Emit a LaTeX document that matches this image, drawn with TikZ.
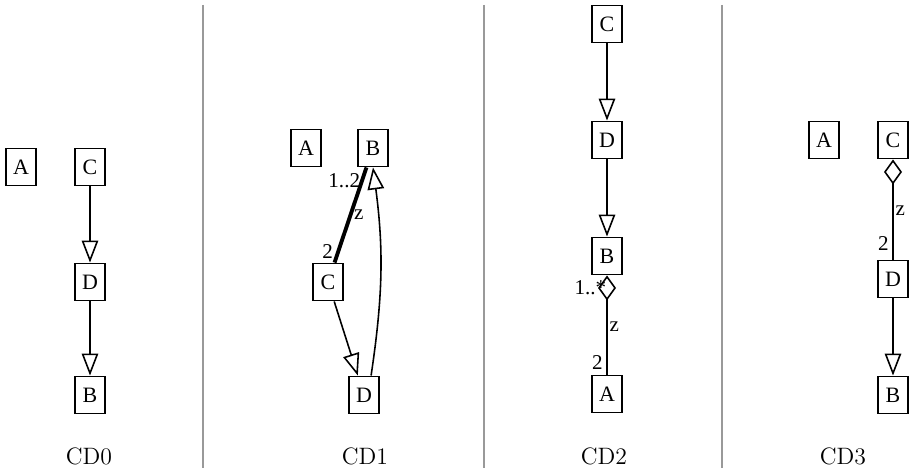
\documentclass[tikz,border=0pt]{standalone}
\usepackage{fontspec}
\newfontfamily\umlfont{Liberation Serif}
\usetikzlibrary{arrows.meta}

\begin{document}
\begin{tikzpicture}[x=0.02cm, y=-0.02cm,
    cls/.style={draw, line width=1.1pt, fill=white, minimum width=0.6cm, minimum height=0.74cm, inner sep=0pt, font=\umlfont\fontsize{12.5}{14}\selectfont},
    gen/.style={-{Triangle[open, length=0.44cm, width=0.33cm]}, line width=0.9pt},
    agg/.style={-{Diamond[open, length=0.5cm, width=0.36cm]}, line width=0.9pt},
    lbl/.style={font=\umlfont\fontsize{12}{14}\selectfont},
    sep/.style={draw=gray!80, line width=0.6pt}]
  \useasboundingbox (0,0) rectangle (910,473);

  % separators
  \draw[sep] (203,5) -- (203,468);
  \draw[sep] (484,5) -- (484,468);
  \draw[sep] (722,5) -- (722,468);

  % CD0
  \node[cls] (a0) at (21,167) {A};
  \node[cls] (c0) at (90,167) {C};
  \node[cls] (d0) at (90,282) {D};
  \node[cls] (b0) at (90,395) {B};
  \draw[gen] (c0) -- (d0);
  \draw[gen] (d0) -- (b0);
  \node[font=\fontsize{13.5}{16}\selectfont] (t0) at (89,456) {CD0};

  % CD1
  \node[cls] (a1) at (306,148) {A};
  \node[cls] (b1) at (373,148) {B};
  \node[cls] (c1) at (328,282) {C};
  \node[cls] (d1) at (364,395) {D};
  \draw[gen] (c1) -- (d1);
  \draw[gen] (d1.70) to[bend right=8] (b1.south);
  \draw[line width=2.2pt] (c1) -- (b1)
    node[lbl, pos=0.12, left, inner sep=2pt] {2}
    node[lbl, pos=0.5, right, inner sep=1pt] {z}
    node[lbl, pos=0.86, left, inner sep=0pt] {1..2};
  \node[font=\fontsize{13.5}{16}\selectfont] (t1) at (365,456) {CD1};

  % CD2
  \node[cls] (c2) at (607,24) {C};
  \node[cls] (d2) at (607,140) {D};
  \node[cls] (b2) at (607,256) {B};
  \node[cls] (a2) at (607,394) {A};
  \draw[gen] (c2) -- (d2);
  \draw[gen] (d2) -- (b2);
  \draw[agg] (a2) -- (b2)
    node[lbl, pos=0.12, left, inner sep=2pt] {2}
    node[lbl, pos=0.48, right, inner sep=1pt] {z}
    node[lbl, pos=0.88, left, inner sep=0pt] {1..*};
  \node[font=\fontsize{13.5}{16}\selectfont] (t2) at (604,456) {CD2};

  % CD3
  \node[cls] (a3) at (824,140) {A};
  \node[cls] (c3) at (893,140) {C};
  \node[cls] (d3) at (893,279) {D};
  \node[cls] (b3) at (893,395) {B};
  \draw[agg] (d3) -- (c3)
    node[lbl, pos=0.16, left, inner sep=2pt] {2}
    node[lbl, pos=0.49, right, inner sep=1pt] {z};
  \draw[gen] (d3) -- (b3);
  \node[font=\fontsize{13.5}{16}\selectfont] (t3) at (843,456) {CD3};
\end{tikzpicture}
\end{document}
